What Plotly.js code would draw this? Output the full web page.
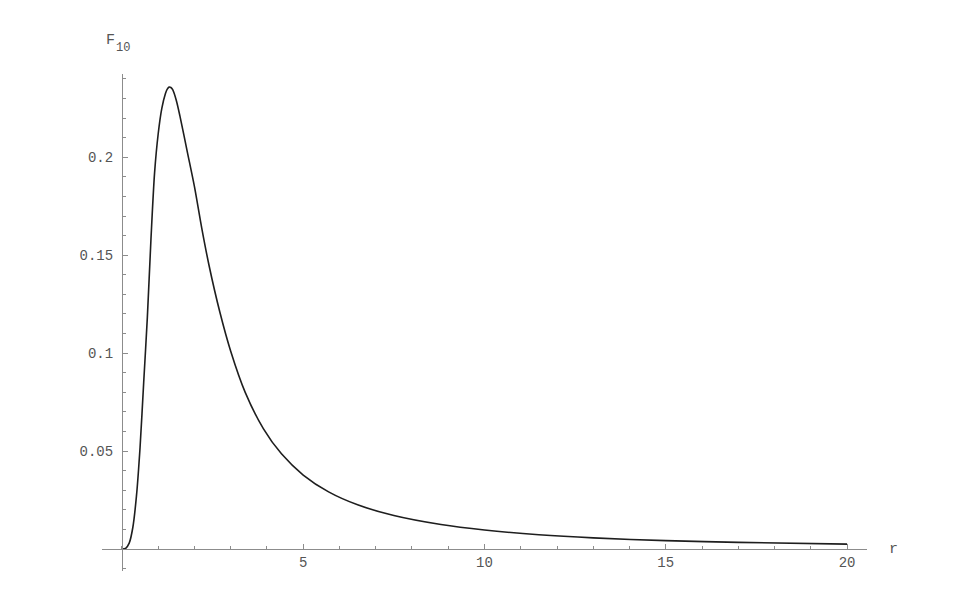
<!DOCTYPE html>
<html>
<head>
<meta charset="utf-8">
<script src="https://cdn.plot.ly/plotly-3.0.1.min.js"></script>
<style>
  html, body { margin: 0; padding: 0; background: #fff; }
  #plot { width: 957px; height: 595px; }
</style>
</head>
<body>
<div id="plot"></div>
<script>
// values
const r = [0, 0.1, 0.2, 0.3, 0.4, 0.5, 0.6, 0.7, 0.8, 0.9, 1.0, 1.1, 1.2, 1.25, 1.3, 1.35,
           1.4, 1.5, 1.6, 1.8, 2.0, 2.2, 2.4, 2.7, 3.0, 3.4, 3.9, 4.4, 5.0,
           5.7, 6.5, 7.5, 8.8, 10, 11.5, 13, 15, 17, 20];
const F10 = [0, 0.0003, 0.003, 0.011, 0.027, 0.052, 0.085, 0.118, 0.158, 0.192, 0.212, 0.225, 0.2325, 0.2348, 0.2358, 0.2356,
             0.2345, 0.229, 0.221, 0.203, 0.185, 0.164, 0.145, 0.121, 0.101, 0.080, 0.0615, 0.0486, 0.0378,
             0.0292, 0.0226, 0.0171, 0.0125, 0.0097, 0.0073, 0.0057, 0.0043, 0.0034, 0.0025];

const xTicks = [5, 10, 15, 20];
const xTickText = ['5', '10', '15', '20'];
const yTicks = [0.05, 0.1, 0.15, 0.2];
const yTickText = ['0.05', '0.1', '0.15', '0.2'];

const xRange = [-0.55, 20.55];
const yRange = [-0.0112, 0.2425];

const axisColor = '#8c8c8c';
const mono = '"Liberation Mono", "Courier New", monospace';
const labelFont = { family: mono, size: 14, color: '#555' };

const curve = {
    x: r,
    y: F10,
    mode: 'lines',
    type: 'scatter',
    line: { color: '#1e1e1e', width: 1.6, shape: 'spline', smoothing: 0.8 },
    hoverinfo: 'skip',
    showlegend: false
};

const layout = {
    width: 957,
    height: 595,
    margin: { l: 102, r: 90, t: 74, b: 24 },
    paper_bgcolor: '#fff',
    plot_bgcolor: '#fff',
    showlegend: false,
    xaxis: {
        range: xRange,
        anchor: 'free',
        position: (0 - yRange[0]) / (yRange[1] - yRange[0]),
        showgrid: false,
        zeroline: false,
        showline: true,
        linecolor: axisColor,
        linewidth: 1,
        ticks: 'inside',
        ticklen: 5,
        tickcolor: axisColor,
        tickmode: 'array',
        tickvals: xTicks,
        ticktext: xTickText,
        tickfont: labelFont,
        minor: { tickmode: 'linear', tick0: 0, dtick: 1, ticks: 'inside', ticklen: 3, tickcolor: axisColor, showgrid: false }
    },
    yaxis: {
        range: yRange,
        anchor: 'free',
        position: (0 - xRange[0]) / (xRange[1] - xRange[0]),
        showgrid: false,
        zeroline: false,
        showline: true,
        linecolor: axisColor,
        linewidth: 1,
        ticks: 'inside',
        ticklen: 5,
        tickcolor: axisColor,
        tickmode: 'array',
        tickvals: yTicks,
        ticktext: yTickText,
        tickfont: labelFont,
        ticklabelstandoff: 6,
        minor: { tickmode: 'linear', tick0: 0, dtick: 0.01, ticks: 'inside', ticklen: 3, tickcolor: axisColor, showgrid: false }
    },
    annotations: [
        {
            text: 'F',
            xref: 'paper', yref: 'paper',
            x: 0.0105, y: 1.0664,
            xanchor: 'center', yanchor: 'middle',
            showarrow: false,
            font: { family: mono, size: 15, color: '#555' }
        },
        {
            text: '10',
            xref: 'paper', yref: 'paper',
            x: 0.0160, y: 1.0523,
            xanchor: 'left', yanchor: 'middle',
            showarrow: false,
            font: { family: mono, size: 12, color: '#555' }
        },
        {
            text: 'r',
            xref: 'paper', yref: 'y',
            x: 1.034, y: 0,
            xanchor: 'center', yanchor: 'middle',
            showarrow: false,
            font: { family: mono, size: 15, color: '#555' }
        }
    ]
};

Plotly.newPlot('plot', [curve], layout, { staticPlot: true, displayModeBar: false });
</script>
</body>
</html>
